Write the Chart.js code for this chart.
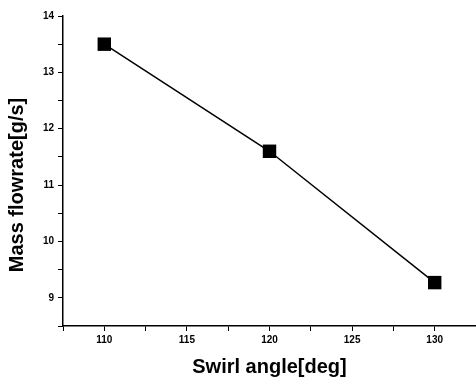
<!DOCTYPE html>
<html>
<head>
<meta charset="utf-8">
<script src="https://cdn.jsdelivr.net/npm/chart.js@4"></script>
<style>
  html, body { margin: 0; padding: 0; background: #fff; }
  #wrap { width: 476px; height: 383px; }
</style>
</head>
<body>
<div id="wrap"><canvas id="chart"></canvas></div>
<script>
// data
const swirlAngles = [110, 120, 130];
const massFlow = [13.5, 11.6, 9.27];
const xTickLabels = [110, 115, 120, 125, 130];
const yTickLabels = [9, 10, 11, 12, 13, 14];

const points = swirlAngles.map((a, i) => ({ x: a, y: massFlow[i] }));
const ink = '#000';
const font = 'Liberation Sans, Arial, sans-serif';

// major + minor (half step) ticks
function withMinor(labels, half) {
    const out = [];
    labels.forEach(v => { out.push(v - half); out.push(v); });
    out.push(labels[labels.length - 1] + half);
    return out;
}
const xTicks = withMinor(xTickLabels, 2.5);
const yTicks = withMinor(yTickLabels, 0.5).filter(v => v <= 14);

// y title drawn by hand so it can sit a bit below the axis centre like the original
const yTitlePlugin = {
    id: 'yTitle',
    afterDraw(chart) {
        const c = chart.ctx;
        c.save();
        c.translate(17, 185);
        c.rotate(-Math.PI / 2);
        c.fillStyle = ink;
        c.font = 'bold 20px ' + font;
        c.textAlign = 'center';
        c.textBaseline = 'middle';
        c.fillText('Mass flowrate[g/s]', 0, 0);
        c.restore();
    }
};

const ctx = document.getElementById('chart').getContext('2d');
new Chart(ctx, {
    type: 'scatter',
    data: {
        datasets: [{
            data: points,
            showLine: true,
            borderColor: ink,
            borderWidth: 1.5,
            backgroundColor: ink,
            pointStyle: 'rect',
            pointRadius: 9.5,
            pointBorderWidth: 0,
            clip: false
        }]
    },
    options: {
        responsive: true,
        maintainAspectRatio: false,
        animation: false,
        layout: { autoPadding: false, padding: { top: 16, right: 0, left: 0, bottom: 4 } },
        plugins: {
            legend: { display: false },
            tooltip: { enabled: false }
        },
        scales: {
            x: {
                type: 'linear',
                min: 107.5,
                max: 132.5,
                border: { color: ink, width: 1.5 },
                grid: { drawOnChartArea: false, color: ink, tickLength: 5, tickWidth: 1 },
                afterBuildTicks: s => { s.ticks = xTicks.map(v => ({ value: v })); },
                ticks: {
                    color: ink,
                    padding: 3,
                    maxRotation: 0,
                    autoSkip: false,
                    font: { family: font, size: 10, weight: 'bold' },
                    callback: v => xTickLabels.includes(v) ? String(v) : ''
                },
                title: {
                    display: true,
                    text: 'Swirl angle[deg]',
                    color: ink,
                    padding: { top: 0, bottom: 0 },
                    font: { family: font, size: 20, weight: 'bold' }
                },
                afterFit: s => { s.height = 53; s.paddingRight = 0; s.paddingLeft = 0; }
            },
            y: {
                min: 8.5,
                max: 14,
                border: { color: ink, width: 1.5 },
                grid: { drawOnChartArea: false, color: ink, tickLength: 5, tickWidth: 1 },
                afterBuildTicks: s => { s.ticks = yTicks.map(v => ({ value: v })); },
                ticks: {
                    color: ink,
                    padding: 4,
                    autoSkip: false,
                    font: { family: font, size: 10, weight: 'bold' },
                    callback: v => yTickLabels.includes(v) ? String(v) : ''
                },
                afterFit: s => { s.width = 63; }
            }
        }
    },
    plugins: [yTitlePlugin]
});
</script>
</body>
</html>
